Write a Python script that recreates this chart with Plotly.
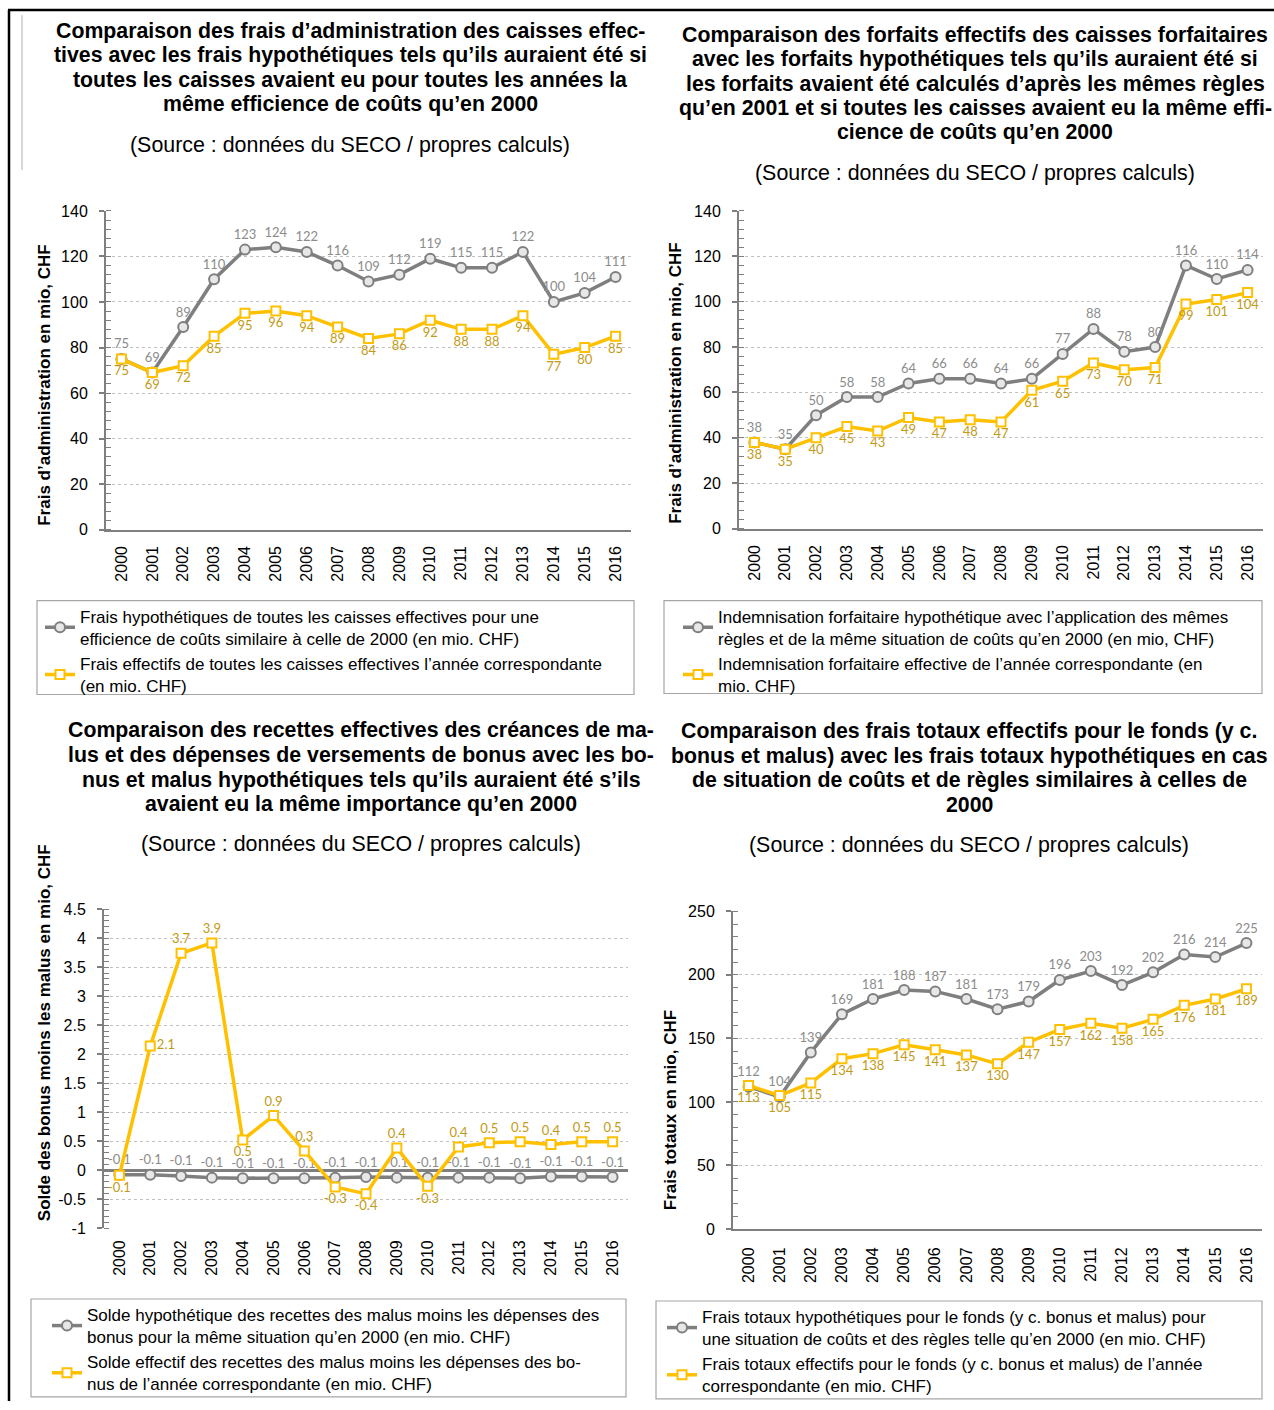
import plotly.graph_objects as go

W, H = 1274, 1410
# vertical placement correction for how the page ends up on screen
Y_OFF, Y_SCALE = 7.9, 0.9888

years = list(range(2000, 2017))

# Panel 1: frais d'administration des caisses effectives
admin_hypo = [75, 69, 89, 110, 123, 124, 122, 116, 109, 112, 119, 115, 115, 122, 100, 104, 111]
admin_eff = [75, 69, 72, 85, 95, 96, 94, 89, 84, 86, 92, 88, 88, 94, 77, 80, 85]

# Panel 2: forfaits des caisses forfaitaires
forf_hypo = [38, 35, 50, 58, 58, 64, 66, 66, 64, 66, 77, 88, 78, 80, 116, 110, 114]
forf_eff = [38, 35, 40, 45, 43, 49, 47, 48, 47, 61, 65, 73, 70, 71, 99, 101, 104]

# Panel 3: solde malus - bonus
solde_hypo = [-0.08, -0.08, -0.10, -0.13, -0.14, -0.14, -0.14, -0.13, -0.12, -0.13,
              -0.13, -0.13, -0.13, -0.14, -0.11, -0.11, -0.12]
solde_eff = [-0.09, 2.14, 3.74, 3.92, 0.52, 0.94, 0.33, -0.29, -0.41, 0.38,
             -0.28, 0.40, 0.47, 0.49, 0.44, 0.49, 0.49]

# Panel 4: frais totaux pour le fonds
total_hypo = [112, 104, 139, 169, 181, 188, 187, 181, 173, 179, 196, 203, 192, 202, 216, 214, 225]
total_eff = [113, 105, 115, 134, 138, 145, 141, 137, 130, 147, 157, 162, 158, 165, 176, 181, 189]

titles = [
    ["Comparaison des frais d’administration des caisses effec-",
     "tives avec les frais hypothétiques tels qu’ils auraient été si",
     "toutes les caisses avaient eu pour toutes les années la",
     "même efficience de coûts qu’en 2000"],
    ["Comparaison des forfaits effectifs des caisses forfaitaires",
     "avec les forfaits hypothétiques tels qu’ils auraient été si",
     "les forfaits avaient été calculés d’après les mêmes règles",
     "qu’en 2001 et si toutes les caisses avaient eu la même effi-",
     "cience de coûts qu’en 2000"],
    ["Comparaison des recettes effectives des créances de ma-",
     "lus et des dépenses de versements de bonus avec les bo-",
     "nus et malus hypothétiques tels qu’ils auraient été s’ils",
     "avaient eu la même importance qu’en 2000"],
    ["Comparaison des frais totaux effectifs pour le fonds (y c.",
     "bonus et malus) avec les frais totaux hypothétiques en cas",
     "de situation de coûts et de règles similaires à celles de",
     "2000"],
]
source_text = "(Source : données du SECO / propres calculs)"

y_titles = [
    "Frais d’administration en mio, CHF",
    "Frais d’administration en mio, CHF",
    "Solde des bonus moins les malus en mio, CHF",
    "Frais totaux en mio, CHF",
]

legend_names = [
    ["Frais hypothétiques de toutes les caisses effectives pour une<br>"
     "efficience de coûts similaire à celle de 2000 (en mio. CHF)",
     "Frais effectifs de toutes les caisses effectives l’année correspondante<br>"
     "(en mio. CHF)"],
    ["Indemnisation forfaitaire hypothétique avec l’application des mêmes<br>"
     "règles et de la même situation de coûts qu’en 2000 (en mio, CHF)",
     "Indemnisation forfaitaire effective de l’année correspondante (en<br>"
     "mio. CHF)"],
    ["Solde hypothétique des recettes des malus moins les dépenses des<br>"
     "bonus pour la même situation qu’en 2000 (en mio. CHF)",
     "Solde effectif des recettes des malus moins les dépenses des bo-<br>"
     "nus de l’année correspondante (en mio. CHF)"],
    ["Frais totaux hypothétiques pour le fonds (y c. bonus et malus) pour<br>"
     "une situation de coûts et des règles telle qu’en 2000 (en mio. CHF)",
     "Frais totaux effectifs pour le fonds (y c. bonus et malus) de l’année<br>"
     "correspondante (en mio. CHF)"],
]

GRAY = "#7f7f7f"
GOLD = "#ffc000"
GRAY_TXT = "#8c8c8c"
GOLD_TXT = "#c29a16"
FONT = "Liberation Sans"
LABEL_FONT = "Lato"


def px(x):
    return x / W


def py(y):
    return 1 - ((y - Y_OFF) / Y_SCALE) / H


# plot box in page pixels, y scale, and placement of titles and legends
panels = [
    dict(series=(admin_hypo, admin_eff), fmt="{:.0f}",
         box=(106, 631, 211, 530), yrange=[0, 140], dtick=20, minor=4,
         title_x=350, title_y=31, title_step=24.3, src_y=145, xlab_gap=8,
         ytitle_xy=(45, 386), legend_box=(37, 634, 601, 695), legend_text_x=80),
    dict(series=(forf_hypo, forf_eff), fmt="{:.0f}",
         box=(739, 1263, 211, 529), yrange=[0, 140], dtick=20, minor=4,
         title_x=975, title_y=35, title_step=24.3, src_y=173, xlab_gap=8,
         ytitle_xy=(676, 384), legend_box=(664, 1262, 601, 694), legend_text_x=718),
    dict(series=(solde_hypo, solde_eff), fmt="{:.1f}",
         box=(104, 628, 910, 1229), yrange=[-1, 4.5], dtick=0.5, minor=0.1,
         title_x=361, title_y=731, title_step=24.6, src_y=845, xlab_gap=8,
         ytitle_xy=(44, 1034), legend_box=(31, 626, 1300, 1398), legend_text_x=87),
    dict(series=(total_hypo, total_eff), fmt="{:.0f}",
         box=(733, 1262, 912, 1230), yrange=[0, 250], dtick=50, minor=10,
         title_x=969, title_y=732, title_step=24.4, src_y=846, xlab_gap=10,
         ytitle_xy=(670, 1111), legend_box=(656, 1262, 1302, 1400), legend_text_x=702),
]

# label placement for the effective series in the bonus/malus panel
solde_eff_pos = ["bottom center", "middle right", "top center", "top center",
                 "bottom center", "top center", "top center", "bottom center",
                 "bottom center", "top center", "bottom center", "top center",
                 "top center", "top center", "top center", "top center", "top center"]

fig = go.Figure()
annotations = []
shapes = []

for i, p in enumerate(panels):
    n = i + 1
    xa = "x" if n == 1 else f"x{n}"
    ya = "y" if n == 1 else f"y{n}"
    lg = "legend" if n == 1 else f"legend{n}"
    hypo, eff = p["series"]
    eff_pos = solde_eff_pos if n == 3 else "bottom center"

    fig.add_trace(go.Scatter(
        x=years, y=hypo, xaxis=xa, yaxis=ya, legend=lg,
        name=legend_names[i][0],
        mode="lines+markers+text",
        line=dict(color=GRAY, width=3.5),
        marker=dict(symbol="circle", size=10, color="#e7e7e7",
                    line=dict(color=GRAY, width=2)),
        text=[p["fmt"].format(v) for v in hypo],
        textposition="top center",
        textfont=dict(family=LABEL_FONT, size=13, color=GRAY_TXT),
        cliponaxis=False,
    ))
    fig.add_trace(go.Scatter(
        x=years, y=eff, xaxis=xa, yaxis=ya, legend=lg,
        name=legend_names[i][1],
        mode="lines+markers+text",
        line=dict(color=GOLD, width=3.5),
        marker=dict(symbol="square", size=9, color="white",
                    line=dict(color=GOLD, width=2)),
        text=[p["fmt"].format(v) for v in eff],
        textposition=eff_pos,
        textfont=dict(family=LABEL_FONT, size=13, color=GOLD_TXT),
        cliponaxis=False,
    ))

    x0, x1, y0, y1 = p["box"]
    ylo, yhi = p["yrange"]
    ticks = []
    v = ylo
    while v <= yhi + 1e-9:
        ticks.append(round(v, 6))
        v += p["dtick"]
    ticktext = [f"{t:g}" for t in ticks]

    xaxis = dict(
        domain=[px(x0), px(x1)], anchor=ya, range=[1999.5, 2016.5],
        tickmode="array", tickvals=years, ticktext=[str(y) for y in years],
        tickangle=-90, tickfont=dict(family=FONT, size=16, color="black"),
        ticklabelstandoff=p["xlab_gap"],
        showgrid=False, zeroline=False, ticks="",
        showline=(n != 3), linecolor=GRAY, linewidth=2,
    )
    yaxis = dict(
        domain=[py(y1), py(y0)], anchor=xa, range=[ylo, yhi],
        tickmode="array", tickvals=ticks, ticktext=ticktext,
        tickfont=dict(family=FONT, size=16, color="black"),
        ticklabelstandoff=8,
        showgrid=True, gridcolor="#c0c0c0", griddash="dot", gridwidth=1,
        showline=True, linecolor=GRAY, linewidth=2,
        ticks="outside", ticklen=5, tickcolor=GRAY, tickwidth=1.5,
        minor=dict(dtick=p["minor"], tick0=0, ticks="inside", ticklen=5,
                   tickcolor=GRAY, tickwidth=1, showgrid=False),
        zeroline=(n == 3), zerolinecolor=GRAY, zerolinewidth=2.5,
    )
    key = "" if n == 1 else str(n)
    fig.update_layout(**{f"xaxis{key}": xaxis, f"yaxis{key}": yaxis})

    for k, line in enumerate(titles[i]):
        annotations.append(dict(
            x=px(p["title_x"]), y=py(p["title_y"] + k * p["title_step"]),
            xref="paper", yref="paper", xanchor="center", yanchor="middle",
            showarrow=False, text=f"<b>{line}</b>",
            font=dict(family=FONT, size=21.3, color="black"),
        ))
    annotations.append(dict(
        x=px(p["title_x"]), y=py(p["src_y"]), xref="paper", yref="paper",
        xanchor="center", yanchor="middle", showarrow=False,
        text=source_text, font=dict(family=FONT, size=21.4, color="black"),
    ))
    yx, yy = p["ytitle_xy"]
    annotations.append(dict(
        x=px(yx), y=py(yy), xref="paper", yref="paper",
        xanchor="center", yanchor="middle", showarrow=False, textangle=-90,
        text=f"<b>{y_titles[i]}</b>",
        font=dict(family=FONT, size=17, color="black"),
    ))

    lx0, lx1, ly0, ly1 = p["legend_box"]
    shapes.append(dict(type="rect", xref="paper", yref="paper",
                       x0=px(lx0), x1=px(lx1), y0=py(ly1), y1=py(ly0),
                       line=dict(color="#a6a6a6", width=1.2),
                       fillcolor="rgba(0,0,0,0)"))
    fig.update_layout(**{lg: dict(
        x=px(p["legend_text_x"] - 40), y=py(ly0 - 2), xanchor="left", yanchor="top",
        bgcolor="rgba(0,0,0,0)", borderwidth=0,
        font=dict(family=FONT, size=17, color="black"),
        tracegroupgap=0, itemwidth=30,
    )})

# page frame lines
shapes.append(dict(type="line", xref="paper", yref="paper",
                   x0=px(8), x1=1, y0=py(10), y1=py(10),
                   line=dict(color="black", width=2.5)))
shapes.append(dict(type="line", xref="paper", yref="paper",
                   x0=px(9), x1=px(9), y0=py(10), y1=0,
                   line=dict(color="black", width=2.5)))
shapes.append(dict(type="line", xref="paper", yref="paper",
                   x0=px(22), x1=px(22), y0=py(15), y1=py(170),
                   line=dict(color="#b0b0b0", width=1)))

fig.update_layout(
    width=W, height=H,
    margin=dict(l=0, r=0, t=0, b=0),
    paper_bgcolor="white", plot_bgcolor="white",
    showlegend=True,
    annotations=annotations,
    shapes=shapes,
)

fig.write_html("out.html")
